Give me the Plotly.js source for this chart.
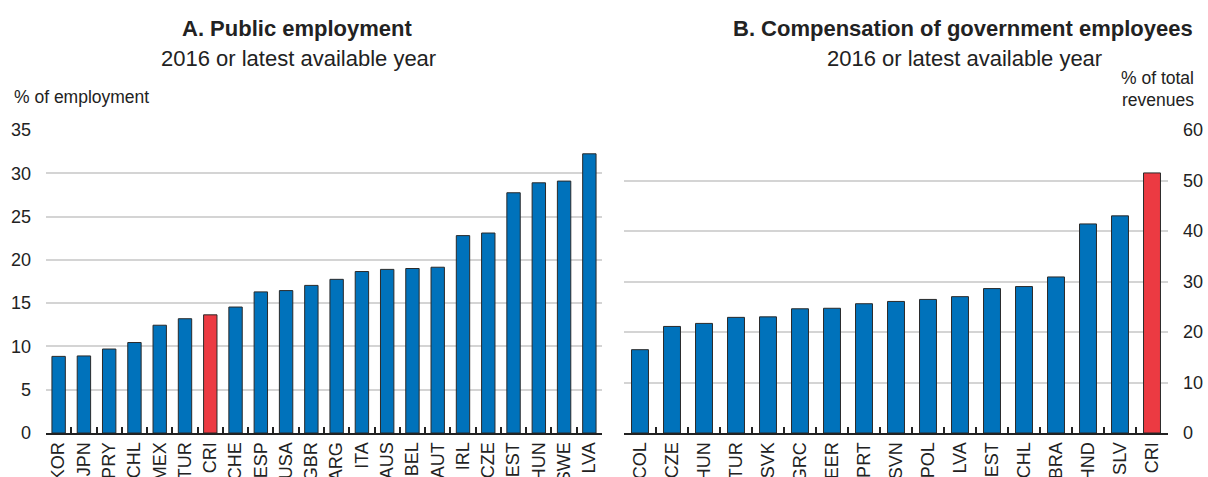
<!DOCTYPE html>
<html>
<head>
<meta charset="utf-8">
<script src="https://cdn.plot.ly/plotly-3.0.1.min.js"></script>
<style>html,body{margin:0;padding:0;background:#fff;}#chart{width:1208px;height:477px;}</style>
</head>
<body>
<div id="chart"></div>
<script>
// Panel A: Public employment, % of employment
const countriesA = ["KOR","JPN","PRY","CHL","MEX","TUR","CRI","CHE","ESP","USA","GBR","ARG","ITA","AUS","BEL","AUT","IRL","CZE","EST","HUN","SWE","LVA"];
const valuesA = [8.85, 8.9, 9.7, 10.45, 12.45, 13.2, 13.65, 14.55, 16.3, 16.45, 17.05, 17.75, 18.65, 18.9, 19.0, 19.15, 22.8, 23.1, 27.75, 28.9, 29.1, 32.25];

// Panel B: Compensation of government employees, % of total revenues
const countriesB = ["COL","CZE","HUN","TUR","SVK","GRC","PEER","PRT","SVN","POL","LVA","EST","CHL","BRA","HND","SLV","CRI"];
const valuesB = [16.5, 21.1, 21.7, 22.9, 23.0, 24.6, 24.7, 25.6, 26.05, 26.45, 27.0, 28.6, 29.0, 30.9, 41.4, 43.0, 51.5];

const highlight = "CRI";
const blue = "#0072bb", red = "#ec3a42";
const colorsFor = arr => arr.map(c => c === highlight ? red : blue);

const fontFam = "Liberation Sans, Arial, sans-serif";
const tickFont = {family: fontFam, size: 18, color: "#222"};

const traces = [
  {type: "bar", x: countriesA, y: valuesA, xaxis: "x", yaxis: "y",
   marker: {color: colorsFor(countriesA), line: {color: "#2a2a2a", width: 1}}, hoverinfo: "x+y"},
  {type: "bar", x: countriesB, y: valuesB, xaxis: "x2", yaxis: "y2",
   marker: {color: colorsFor(countriesB), line: {color: "#2a2a2a", width: 1}}, hoverinfo: "x+y"}
];

const xCommon = {
  type: "category", tickangle: -90, tickfont: tickFont, showgrid: false,
  showline: true, linecolor: "#222", linewidth: 2,
  ticks: "inside", tickson: "boundaries", ticklen: 6, tickcolor: "#222", tickwidth: 2,
  automargin: false, fixedrange: true
};
const yCommon = {
  showgrid: true, gridcolor: "#d4d4d4", gridwidth: 2, zeroline: false, showline: false,
  ticks: "", tickfont: tickFont, automargin: false, fixedrange: true
};

const mL = 46, mR = 40, W = 1208;
const pw = W - mL - mR;
const px = v => (v - mL) / pw;
const plotTop = 130, plotBottom = 433.3, ph = plotBottom - plotTop;
const py = v => (plotBottom - v) / ph;

const ann = (text, x, y, opts) => Object.assign({
  text, x: px(x), y: py(y), xref: "paper", yref: "paper",
  showarrow: false, xanchor: "center", yanchor: "middle",
  font: {family: fontFam, size: 22, color: "#222"}
}, opts || {});
const smallFont = {family: fontFam, size: 17.5, color: "#222"};

const layout = {
  width: 1208, height: 477,
  margin: {l: mL, r: mR, t: plotTop, b: 477 - plotBottom},
  paper_bgcolor: "#fff", plot_bgcolor: "#fff",
  showlegend: false, bargap: 0.47,
  xaxis: Object.assign({}, xCommon, {domain: [0, px(602)], anchor: "y"}),
  yaxis: Object.assign({}, yCommon, {range: [0, 35], dtick: 5, domain: [0, 1], anchor: "x", ticklabelstandoff: 14}),
  xaxis2: Object.assign({}, xCommon, {domain: [px(624), 1], anchor: "y2"}),
  yaxis2: Object.assign({}, yCommon, {range: [0, 60], dtick: 10, domain: [0, 1], anchor: "x2", side: "right", ticklabelstandoff: 14}),
  annotations: [
    ann("<b>A. Public employment</b>", 297, 28),
    ann("2016 or latest available year", 298, 58),
    ann("% of employment", 12, 97, {xanchor: "left", font: smallFont}),
    ann("<b>B. Compensation of government employees</b>", 963, 28),
    ann("2016 or latest available year", 964, 58),
    ann("% of total", 1196, 78, {xanchor: "right", font: smallFont}),
    ann("revenues", 1196, 100, {xanchor: "right", font: smallFont})
  ]
};

Plotly.newPlot("chart", traces, layout, {displayModeBar: false, staticPlot: true});
</script>
</body>
</html>
